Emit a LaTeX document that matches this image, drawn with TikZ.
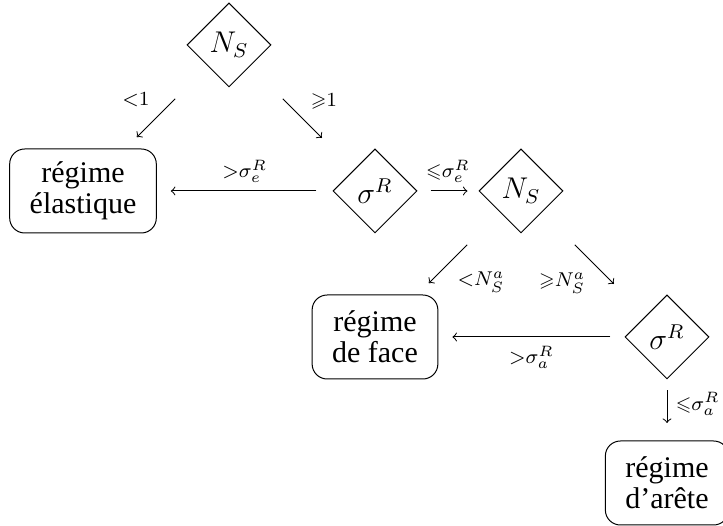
\documentclass[tikz,border=0pt]{standalone}
\usepackage{fontspec}
\setmainfont{Liberation Serif}
\usepackage{amssymb}
\usetikzlibrary{positioning,shapes.geometric}

\begin{document}
\begin{tikzpicture}[
  node distance=58.4pt and 58.4pt,
  on grid,
  test/.style={diamond,draw,aspect=1,inner sep=1pt,minimum size=33.6pt,
    font=\fontsize{12}{12.5}\selectfont},
  regime/.style={rectangle,rounded corners=6pt,draw,inner xsep=8pt,
    minimum height=33.6pt,align=center,font=\fontsize{12}{12.5}\selectfont},
  lbl/.style={font=\footnotesize},
  arrow/.style={->},
  diag/.style={arrow,shorten <=18.4pt,shorten >=18pt}
]
\useasboundingbox (-91.6pt,-192.4pt) rectangle (197.6pt,18pt);
\node[test] (ns) {$N_S$};
\node[regime,below left=of ns] (elas) {régime\\élastique};
\node[test,below right=of ns] (sig) {$\sigma^R$};
\node[test,right=of sig] (nsa) {$N_S$};
\node[regime,below left=of nsa] (face) {régime\\de face};
\node[test,below right=of nsa] (siga) {$\sigma^R$};
\node[regime,below=of siga] (arete) {régime\\d'arête};
\draw[diag,shorten >=6.4pt] (ns) -- node[lbl,above left,pos=.6]{${<}1$} (elas);
\draw[diag] (ns) -- node[lbl,above right]{${\geqslant}1$} (sig);
\draw[arrow,shorten <=6.4pt,shorten >=5.6pt] (sig) -- node[lbl,above]{${>}\sigma_e^R$} (elas);
\draw[arrow,shorten <=5.2pt,shorten >=4.4pt] (sig) -- node[lbl,above]{${\leqslant}\sigma_e^R$} (nsa);
\draw[diag,shorten >=6.4pt] (nsa) -- node[lbl,below right,pos=.62]{${<}N_S^a$} (face);
\draw[diag] (nsa) -- node[lbl,below left]{${\geqslant}N_S^a$} (siga);
\draw[arrow,shorten <=5.6pt,shorten >=5.6pt] (siga) -- node[lbl,below]{${>}\sigma_a^R$} (face);
\draw[arrow,shorten <=4.4pt,shorten >=7pt] (siga) -- node[lbl,right,pos=.4]{${\leqslant}\sigma_a^R$} (arete);
\end{tikzpicture}
\end{document}
